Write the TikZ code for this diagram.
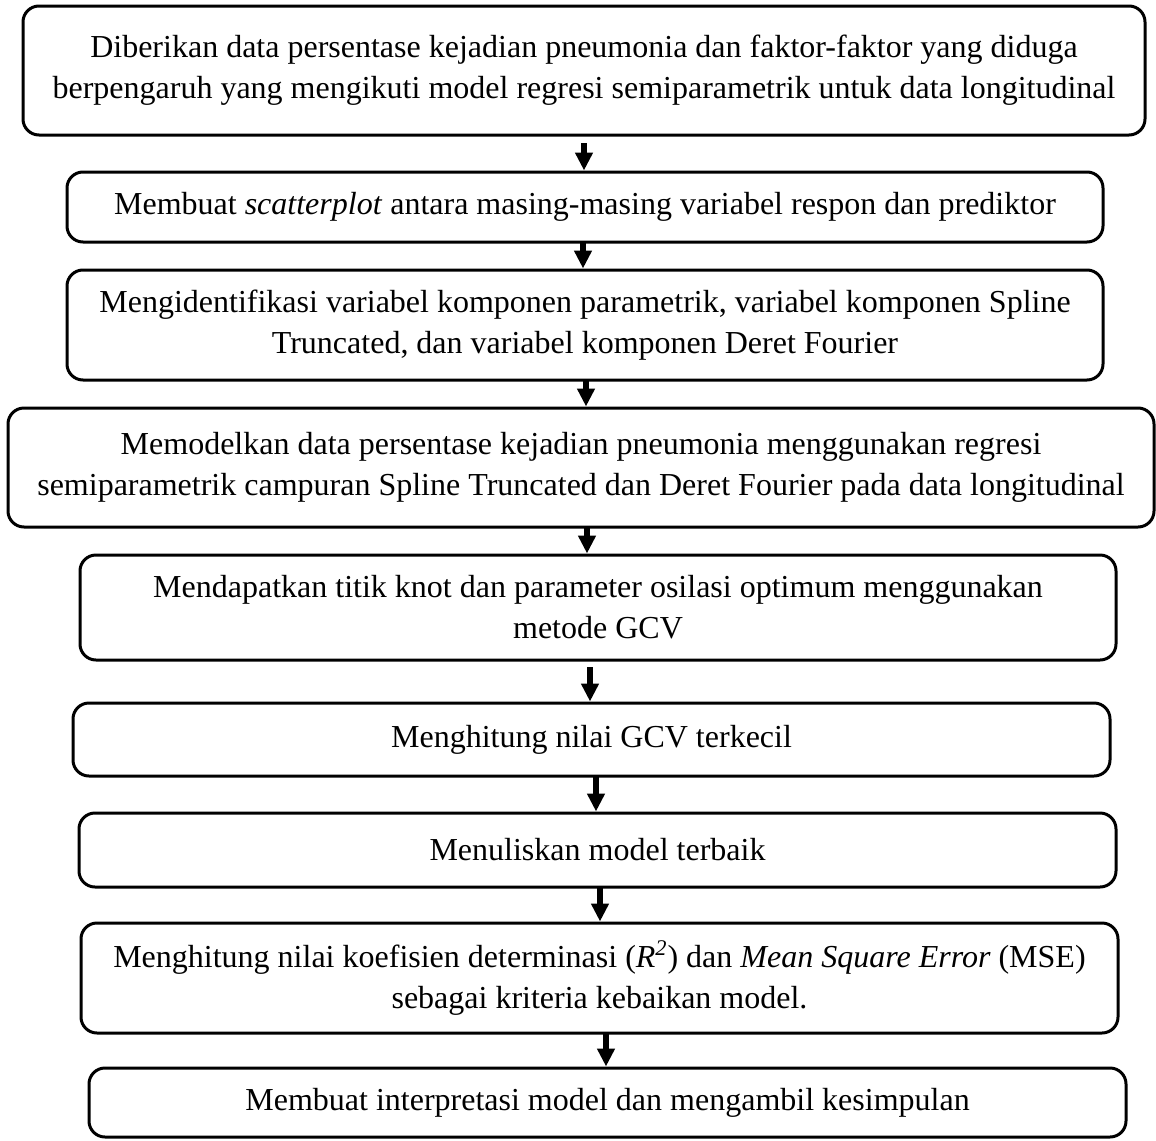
\documentclass[tikz,border=0pt]{standalone}
\usepackage{fontspec}
\setmainfont{Liberation Serif}
\usetikzlibrary{arrows.meta}
\begin{document}
\begin{tikzpicture}[x=0.5pt,y=-0.5pt,
  stepbox/.style={draw, line width=1.5pt, rounded corners=8pt, inner sep=0pt,
    outer sep=0pt, align=center, font=\fontsize{16pt}{20.5pt}\selectfont},
  flow/.style={line width=2.8pt, -{Triangle[width=8.5pt,length=9pt]}}]
\useasboundingbox (0,0) rectangle (1156,1140);

% process steps
\node[stepbox, minimum width=561pt, minimum height=64.5pt] (b1) at (584,70.5)
  {Diberikan data persentase kejadian pneumonia dan faktor-faktor yang diduga\\
   berpengaruh yang mengikuti model regresi semiparametrik untuk data longitudinal};
\node[stepbox, minimum width=518pt, minimum height=35pt] (b2) at (585,207)
  {Membuat \textit{scatterplot} antara masing-masing variabel respon dan prediktor};
\node[stepbox, minimum width=518pt, minimum height=55pt] (b3) at (585,325)
  {Mengidentifikasi variabel komponen parametrik, variabel komponen Spline\\
   Truncated, dan variabel komponen Deret Fourier};
\node[stepbox, minimum width=573pt, minimum height=59.5pt] (b4) at (581,467.5)
  {Memodelkan data persentase kejadian pneumonia menggunakan regresi\\
   semiparametrik campuran Spline Truncated dan Deret Fourier pada data longitudinal};
\node[stepbox, minimum width=518pt, minimum height=52.5pt] (b5) at (598,607.5)
  {Mendapatkan titik knot dan parameter osilasi optimum menggunakan\\
   metode GCV};
\node[stepbox, minimum width=518.5pt, minimum height=36.5pt] (b6) at (591.5,739.5)
  {Menghitung nilai GCV terkecil};
\node[stepbox, minimum width=518.5pt, minimum height=37pt] (b7) at (597.5,850)
  {Menuliskan model terbaik};
\node[stepbox, minimum width=518.5pt, minimum height=55pt] (b8) at (599.5,978)
  {Menghitung nilai koefisien determinasi (\textit{R\textsuperscript{2}}) dan \textit{Mean Square Error} (MSE)\\
   sebagai kriteria kebaikan model.};
\node[stepbox, minimum width=518.5pt, minimum height=34.5pt] (b9) at (607.5,1102.5)
  {Membuat interpretasi model dan mengambil kesimpulan};

% connectors
\draw[flow] ([yshift=-4pt]b1.south) -- ([xshift=-0.5pt,yshift=0.75pt]b2.north);
\draw[flow] ([xshift=-1pt]b2.south) -- ([xshift=-1pt,yshift=0.75pt]b3.north);
\draw[flow] ([xshift=0.5pt]b3.south) -- ([xshift=2.5pt,yshift=0.75pt]b4.north);
\draw[flow] ([xshift=3pt]b4.south) -- ([xshift=-5.5pt,yshift=0.75pt]b5.north);
\draw[flow] ([xshift=-4pt,yshift=-3.5pt]b5.south) -- ([xshift=-0.75pt,yshift=0.75pt]b6.north);
\draw[flow] ([xshift=2.25pt]b6.south) -- ([xshift=-0.75pt,yshift=0.75pt]b7.north);
\draw[flow] ([xshift=1.25pt]b7.south) -- ([xshift=0.25pt,yshift=0.75pt]b8.north);
\draw[flow] ([xshift=3.25pt]b8.south) -- ([xshift=-0.75pt,yshift=0.75pt]b9.north);
\end{tikzpicture}
\end{document}
